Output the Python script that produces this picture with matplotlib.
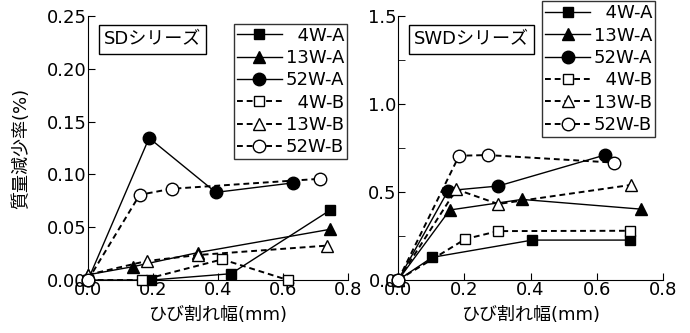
import matplotlib
matplotlib.use("Agg")
import matplotlib.pyplot as plt
from matplotlib.ticker import MultipleLocator, FormatStrFormatter

plt.rcParams['font.family'] = ['DejaVu Sans', 'Noto Sans CJK JP']

labels = ["  4W-A", "13W-A", "52W-A", "  4W-B", "13W-B", "52W-B"]

# SD series
sd_x = {
    "4W-A": [0.0, 0.195, 0.44, 0.744],
    "13W-A": [0.0, 0.139, 0.338, 0.744],
    "52W-A": [0.0, 0.188, 0.393, 0.631],
    "4W-B": [0.0, 0.167, 0.413, 0.615],
    "13W-B": [0.0, 0.18, 0.338, 0.735],
    "52W-B": [0.0, 0.159, 0.257, 0.715],
}
sd_y = {
    "4W-A": [0.0, 0.0, 0.006, 0.066],
    "13W-A": [0.005, 0.0127, 0.026, 0.048],
    "52W-A": [0.0, 0.1345, 0.083, 0.092],
    "4W-B": [0.0, 0.0, 0.0196, 0.0],
    "13W-B": [0.005, 0.018, 0.0237, 0.0326],
    "52W-B": [0.0, 0.0807, 0.0864, 0.0959],
}

# SWD series
swd_x = {
    "4W-A": [0.0, 0.103, 0.405, 0.70],
    "13W-A": [0.0, 0.156, 0.374, 0.732],
    "52W-A": [0.0, 0.151, 0.302, 0.624],
    "4W-B": [0.0, 0.203, 0.302, 0.70],
    "13W-B": [0.0, 0.176, 0.302, 0.702],
    "52W-B": [0.0, 0.184, 0.27, 0.652],
}
swd_y = {
    "4W-A": [0.0, 0.129, 0.227, 0.227],
    "13W-A": [0.0, 0.398, 0.458, 0.403],
    "52W-A": [0.0, 0.508, 0.534, 0.71],
    "4W-B": [0.0, 0.233, 0.278, 0.28],
    "13W-B": [0.0, 0.515, 0.432, 0.54],
    "52W-B": [0.0, 0.706, 0.71, 0.667],
}

keys = ["4W-A", "13W-A", "52W-A", "4W-B", "13W-B", "52W-B"]
styles = {
    "4W-A": dict(marker='s', mfc='black', ls='-', lw=1.0, ms=7),
    "13W-A": dict(marker='^', mfc='black', ls='-', lw=1.0, ms=8),
    "52W-A": dict(marker='o', mfc='black', ls='-', lw=1.0, ms=9),
    "4W-B": dict(marker='s', mfc='white', ls=(0, (3, 2)), lw=1.4, ms=7),
    "13W-B": dict(marker='^', mfc='white', ls=(0, (3, 2)), lw=1.4, ms=8),
    "52W-B": dict(marker='o', mfc='white', ls=(0, (3, 2)), lw=1.4, ms=9),
}

fig = plt.figure(figsize=(6.9, 3.33), dpi=100)
ax1 = fig.add_axes([0.1275, 0.159, 0.377, 0.793])
ax2 = fig.add_axes([0.577, 0.159, 0.384, 0.793])

fs = 13

def setup(ax, xs, ys, ymax, major, minor, title, leg_anchor):
    for k, lab in zip(keys, labels):
        st = styles[k]
        ax.plot(xs[k], ys[k], color='black', mec='black', label=lab,
                clip_on=False, zorder=3, **st)
    ax.set_xlim(0, 0.8)
    ax.set_ylim(0, ymax)
    ax.xaxis.set_major_locator(MultipleLocator(0.2))
    ax.yaxis.set_major_locator(MultipleLocator(major))
    if minor:
        ax.yaxis.set_minor_locator(MultipleLocator(minor))
    ax.spines['top'].set_visible(False)
    ax.spines['right'].set_visible(False)
    ax.tick_params(direction='in', which='both', labelsize=fs, length=5, pad=1)
    ax.set_xlabel('ひび割れ幅(mm)', fontsize=fs, labelpad=5)
    ax.text(0.06, 0.945, title, transform=ax.transAxes, fontsize=fs,
            va='top', ha='left',
            bbox=dict(boxstyle='square,pad=0.28', fc='white', ec='black', lw=1))
    leg = ax.legend(loc='upper right', bbox_to_anchor=leg_anchor, fontsize=fs,
                    frameon=True, fancybox=False, edgecolor='black',
                    handlelength=2.5, handletextpad=0.2, labelspacing=0.24,
                    borderpad=0.15, borderaxespad=0)
    leg.get_frame().set_linewidth(1.0)

setup(ax1, sd_x, sd_y, 0.25, 0.05, None, 'SDシリーズ', (0.995, 0.97))
ax1.yaxis.set_major_formatter(FormatStrFormatter('%.2f'))
ax1.set_ylabel('質量減少率(%)', fontsize=fs, labelpad=12)

setup(ax2, swd_x, swd_y, 1.5, 0.5, 0.25, 'SWDシリーズ', (0.97, 1.055))
ax2.yaxis.set_major_formatter(FormatStrFormatter('%.1f'))

fig.savefig('out.png', dpi=100)
